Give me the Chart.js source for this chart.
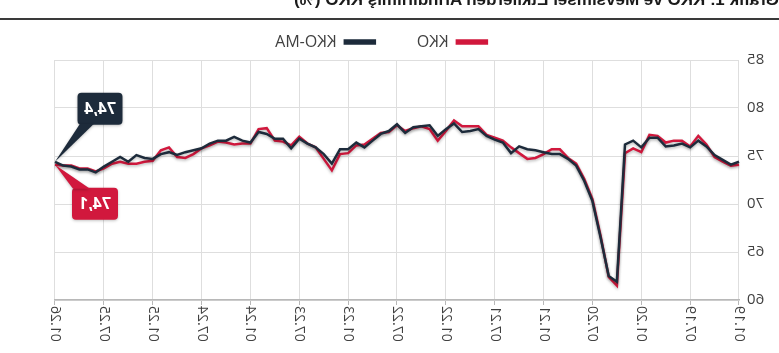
<!DOCTYPE html>
<html><head><meta charset="utf-8">
<script src="https://cdn.jsdelivr.net/npm/chart.js@4"></script>
<style>
html,body{margin:0;padding:0;background:#fff;}
#wrap{position:relative;width:779px;height:353px;overflow:hidden;transform:scaleX(-1);}
#title{position:absolute;left:0;top:-10px;font:bold 17px "Liberation Sans",Arial,sans-serif;color:#1a1a1a;white-space:nowrap;line-height:20px;}
#rule{position:absolute;left:0;right:0;top:18px;height:2px;background:#3a3a3a;}
canvas{position:absolute;left:0;top:0;}
</style></head>
<body>
<div id="wrap">
<div id="title">Grafik 1: KKO ve Mevsimsel Etkilerden Arındırılmış KKO (%)</div>
<div id="rule"></div>
<canvas id="c" width="779" height="353"></canvas>
</div>
<script>
const categories = [
 '01.19','02.19','03.19','04.19','05.19','06.19','07.19','08.19','09.19','10.19','11.19','12.19',
 '01.20','02.20','03.20','04.20','05.20','06.20','07.20','08.20','09.20','10.20','11.20','12.20',
 '01.21','02.21','03.21','04.21','05.21','06.21','07.21','08.21','09.21','10.21','11.21','12.21',
 '01.22','02.22','03.22','04.22','05.22','06.22','07.22','08.22','09.22','10.22','11.22','12.22',
 '01.23','02.23','03.23','04.23','05.23','06.23','07.23','08.23','09.23','10.23','11.23','12.23',
 '01.24','02.24','03.24','04.24','05.24','06.24','07.24','08.24','09.24','10.24','11.24','12.24',
 '01.25','02.25','03.25','04.25','05.25','06.25','07.25','08.25','09.25','10.25','11.25','12.25',
 '01.26'
];
const kko = [
 74.1,74.0,74.4,74.9,76.2,77.1,76.0,76.6,76.6,76.4,77.1,77.2,
 75.4,75.8,75.3,61.5,62.4,66.7,70.5,72.6,74.2,74.8,75.7,75.7,
 75.2,74.8,74.7,75.3,75.9,76.6,76.9,77.2,78.1,78.1,78.1,78.7,
 77.6,76.6,77.8,78.1,77.9,77.6,78.2,77.5,77.4,76.8,76.2,76.1,
 75.3,75.2,73.5,74.7,75.9,76.3,77.0,76.1,76.5,76.6,77.9,77.8,
 76.3,76.3,76.2,76.4,76.5,76.1,75.8,75.2,74.8,74.9,75.9,75.6,
 74.5,74.4,74.2,74.2,74.4,74.2,73.7,73.4,73.7,73.7,74.0,74.0,
 74.1
];
const kkoMA = [
 74.4,74.1,74.6,75.1,76.0,76.6,75.9,76.3,76.1,76.0,76.9,76.9,
 75.9,76.6,76.2,61.9,62.5,66.5,70.3,72.4,74.0,74.7,75.2,75.2,
 75.4,75.6,75.7,76.0,75.3,76.4,76.7,77.1,77.8,77.6,77.5,78.4,
 77.8,77.1,78.2,78.1,78.0,77.4,78.3,77.6,77.3,76.6,75.9,76.4,
 75.7,75.7,74.2,75.2,75.9,76.3,76.8,75.8,76.8,76.8,77.3,77.5,
 76.4,76.6,77.0,76.6,76.6,76.3,75.8,75.6,75.4,75.1,75.4,75.2,
 74.7,74.8,75.1,74.4,74.9,74.4,73.9,73.3,73.6,73.6,73.9,74.0,
 74.4
];
const yMin = 60, yMax = 85, yStep = 5;
const labelEvery = 6;

const RED = '#d1183d', NAVY = '#1d2b3b';
const FONT = '"Open Sans", "Liberation Sans", sans-serif';

const shadowPlugin = {
  id: 'shadowPlugin',
  beforeDatasetDraw(chart) {
    const ctx = chart.ctx; ctx.save();
    ctx.shadowColor = 'rgba(0,0,0,0.28)'; ctx.shadowBlur = 3; ctx.shadowOffsetX = 0; ctx.shadowOffsetY = 1.5;
  },
  afterDatasetDraw(chart) { chart.ctx.restore(); }
};
const legendShift = {
  id: 'legendShift',
  afterLayout(chart) {
    const l = chart.legend;
    if (l) { l.left += 36; l.right += 36; l.top -= 38; }
  }
};
const callouts = {
  id: 'callouts',
  afterDatasetsDraw(chart) {
    const ctx = chart.ctx;
    const specs = [
      {ds: 1, dx: -45, dy: -53, w: 45, h: 32, color: NAVY, t0: 6, t1: 20, side: 'bottom'},
      {ds: 0, dx: -40, dy: 39, w: 46, h: 32, color: RED, t0: 5, t1: 22, side: 'top'}
    ];
    specs.forEach(s => {
      const meta = chart.getDatasetMeta(s.ds);
      const pt = meta.data[meta.data.length - 1];
      const px = pt.x, py = pt.y;
      const cx = px + s.dx, cy = py + s.dy;
      const x0 = cx - s.w / 2, y0 = cy - s.h / 2;
      ctx.save();
      ctx.shadowColor = 'rgba(0,0,0,0.25)'; ctx.shadowBlur = 3; ctx.shadowOffsetY = 1;
      ctx.fillStyle = s.color;
      ctx.beginPath();
      ctx.roundRect(x0, y0, s.w, s.h, 4);
      ctx.fill();
      ctx.beginPath();
      const ey = s.side === 'bottom' ? y0 + s.h - 1 : y0 + 1;
      ctx.moveTo(cx + s.t0, ey);
      ctx.lineTo(cx + s.t1, ey);
      ctx.lineTo(px, py);
      ctx.closePath();
      ctx.fill();
      ctx.restore();
      const v = chart.data.datasets[s.ds].data[meta.data.length - 1];
      ctx.save();
      ctx.fillStyle = '#fff';
      ctx.font = 'bold 16px ' + FONT;
      ctx.textAlign = 'center'; ctx.textBaseline = 'middle';
      ctx.fillText(v.toFixed(1).replace('.', ','), cx, cy + 1);
      ctx.restore();
    });
  }
};

new Chart(document.getElementById('c'), {
  type: 'line',
  data: {
    labels: categories,
    datasets: [
      {label: 'KKO', data: kko, borderColor: RED, backgroundColor: RED, borderWidth: 2.5, pointRadius: 0, tension: 0, order: 2},
      {label: 'KKO-MA', data: kkoMA, borderColor: NAVY, backgroundColor: NAVY, borderWidth: 2.5, pointRadius: 0, tension: 0, order: 1}
    ]
  },
  options: {
    responsive: false, animation: false, devicePixelRatio: 1,
    layout: {padding: {left: 0, right: 55, top: 30, bottom: 0}},
    plugins: {
      legend: {display: true, position: 'top', maxHeight: 30,
        labels: {boxWidth: 30, boxHeight: 3, padding: 42, font: {family: FONT, size: 16}, color: '#404040',
          sort: (a, b) => a.datasetIndex - b.datasetIndex}},
      tooltip: {enabled: false}
    },
    scales: {
      x: {
        type: 'category', offset: false,
        grid: {
          color: c => (c.index % labelEvery === 0 ? '#dedede' : 'transparent'),
          tickColor: c => (c.index % labelEvery === 0 ? '#b8b8b8' : 'transparent'),
          tickLength: 5, lineWidth: 1
        },
        border: {color: '#b8b8b8', width: 1.5},
        ticks: {autoSkip: false, maxRotation: 90, minRotation: 90, padding: 1,
          font: {family: FONT, size: 14}, color: '#404040',
          callback: (v, i) => (i % labelEvery === 0 ? categories[i] : '')},
        afterFit: s => { s.height = 53; }
      },
      y: {
        min: yMin, max: yMax,
        ticks: {stepSize: yStep, padding: 8, font: {family: FONT, size: 15}, color: '#404040'},
        grid: {color: '#dedede', drawTicks: false},
        border: {display: false},
        afterFit: s => { s.width = 40; }
      }
    }
  },
  plugins: [shadowPlugin, legendShift, callouts]
});
</script>
</body></html>
